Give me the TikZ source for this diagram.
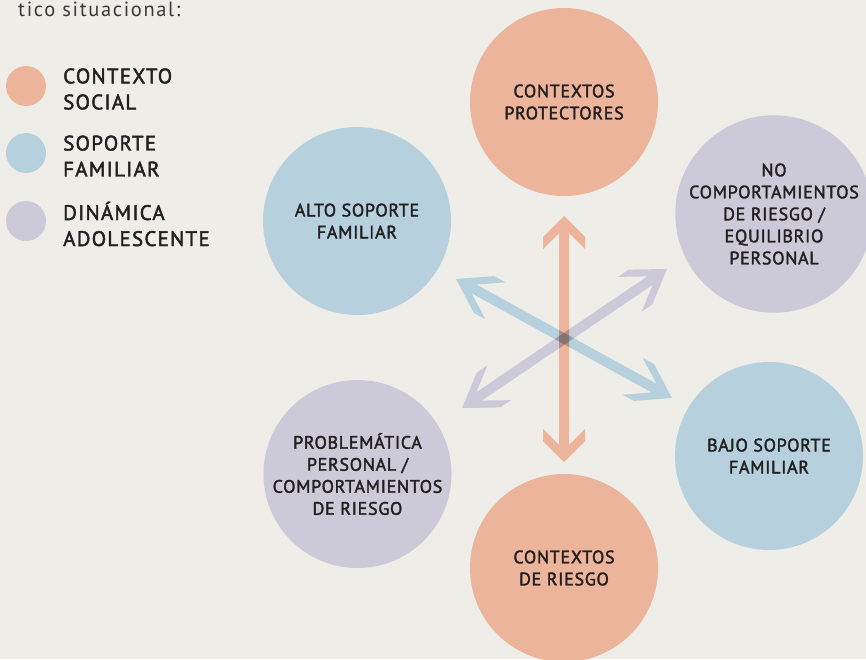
\documentclass[tikz,border=0pt]{standalone}
\usepackage{fontspec}
\setmainfont{PT Sans}
\newfontfamily\dinlike[FakeBold=2,LetterSpace=4]{PT Sans}
\newfontfamily\leglike[FakeBold=2,LetterSpace=6]{PT Sans}
\newfontfamily\toplike[LetterSpace=8]{PT Sans}
\usetikzlibrary{calc}
\definecolor{bg}{HTML}{EEEDE8}
\definecolor{corange}{HTML}{ECB49A}
\definecolor{cblue}{HTML}{B6D1DD}
\definecolor{cpurple}{HTML}{CCC9D8}
\definecolor{txt}{HTML}{231F20}
\definecolor{toptxt}{HTML}{3A3A3A}
% double arrow with chevron heads: #1 tip A, #2 tip B, #3 outer depth, #4 end depth, #5 inner depth, #6 colour
\newcommand\dblarrow[6]{%
\fill[#6] (#1)
 -- ($(#1)!#3!(#2)!21pt!90:(#2)$)
 -- ($(#1)!#4!(#2)!21pt!90:(#2)$)
 -- ($(#1)!#5!(#2)!5pt!90:(#2)$)
 -- ($(#2)!#5!(#1)!5pt!90:(#2)$)
 -- ($(#2)!#4!(#1)!21pt!90:(#2)$)
 -- ($(#2)!#3!(#1)!21pt!90:(#2)$)
 -- (#2)
 -- ($(#2)!#3!(#1)!21pt!-90:(#2)$)
 -- ($(#2)!#4!(#1)!21pt!-90:(#2)$)
 -- ($(#2)!#5!(#1)!5pt!-90:(#2)$)
 -- ($(#1)!#5!(#2)!5pt!-90:(#2)$)
 -- ($(#1)!#4!(#2)!21pt!-90:(#2)$)
 -- ($(#1)!#3!(#2)!21pt!-90:(#2)$)
 -- cycle;}
\begin{document}
\begin{tikzpicture}[x=1pt,y=-1pt,
  bubble/.style={circle, minimum size=188pt, inner sep=0pt, align=center,
    text=txt, font=\dinlike\fontsize{18}{22}\selectfont},
  legdot/.style={circle, minimum size=40pt, inner sep=0pt},
  legtext/.style={anchor=west, align=left, inner sep=0pt, text=txt,
    font=\leglike\fontsize{21}{26}\selectfont},
]
\useasboundingbox[fill=bg] (0,0) rectangle (866,659);
\clip (0,0) rectangle (866,659);

\node[anchor=base west, inner sep=0pt, text=toptxt, font=\toplike\fontsize{20.5}{24}\selectfont] (title) at (18,16) {tico situacional:};

% legend
\node[legdot, fill=corange] (l1) at (26,86) {};
\node[legdot, fill=cblue] (l2) at (26,153) {};
\node[legdot, fill=cpurple] (l3) at (26,221) {};
\node[legtext] (t1) at (63,89) {CONTEXTO\\SOCIAL};
\node[legtext] (t2) at (63,156) {SOPORTE\\FAMILIAR};
\node[legtext] (t3) at (63,224) {DINÁMICA\\ADOLESCENTE};

% circles
\node[bubble, fill=corange] (prot) at (564,102) {CONTEXTOS\\PROTECTORES};
\node[bubble, fill=cblue] (alto) at (357,221) {ALTO SOPORTE\\FAMILIAR};
\node[bubble, fill=cpurple] (nocomp) at (774,214) {NO\\COMPORTAMIENTOS\\DE RIESGO /\\EQUILIBRIO\\PERSONAL};
\node[bubble, fill=cblue] (bajo) at (769,456) {BAJO SOPORTE\\FAMILIAR};
\node[bubble, fill=cpurple] (probl) at (357.5,474) {PROBLEMÁTICA\\PERSONAL /\\COMPORTAMIENTOS\\DE RIESGO};
\node[bubble, fill=corange] (riesgo) at (564,568) {CONTEXTOS\\DE RIESGO};

% arrows
\coordinate (oA) at (564,216); \coordinate (oB) at (564,462);
\coordinate (bA) at (456,279); \coordinate (bB) at (672,398);
\coordinate (pA) at (667,269); \coordinate (pB) at (462,408);
\begin{scope}[blend group=multiply]
\dblarrow{pA}{pB}{32pt}{45pt}{20.6pt}{cpurple}
\dblarrow{bA}{bB}{32pt}{45pt}{20.6pt}{cblue}
\dblarrow{oA}{oB}{21pt}{33pt}{17pt}{corange}
\end{scope}
\end{tikzpicture}
\end{document}
